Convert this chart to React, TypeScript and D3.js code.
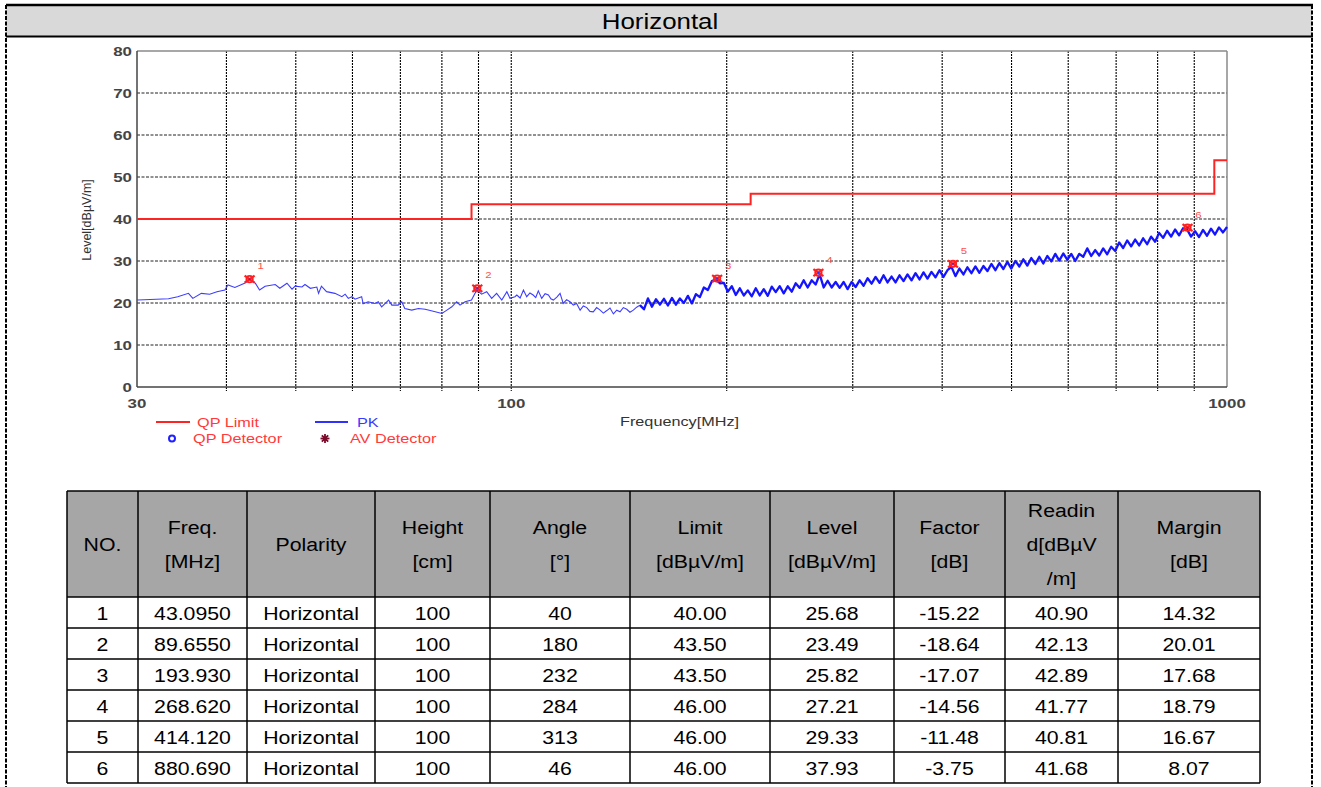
import React from "react";
import * as d3 from "d3";

// ---------- data ----------
const yTicks = [0, 10, 20, 30, 40, 50, 60, 70, 80];
const yGridVals = [10, 20, 30, 40, 50, 60, 70];
const xGridVals = [40, 50, 60, 70, 80, 90, 100, 200, 300, 400, 500, 600, 700, 800, 900];
const xLabelVals = [30, 100, 1000];

// QP limit (step after)
const limitFreq = [30, 88, 216, 960, 1000];
const limitLevel = [40, 43.5, 46, 54, 54];

// PK trace, sparse part (MHz, dBµV/m)
const pkLow: [number, number][] = [
  [30.0, 20.8], [30.1, 20.7], [33.2, 21.0], [34.2, 21.5], [35.4, 22.3], [35.9, 21.1], [36.9, 22.3],
  [37.9, 22.1], [38.8, 22.7], [39.8, 23.1], [40.2, 24.3], [41.1, 23.7], [42.4, 24.7], [43.1, 25.5],
  [43.9, 24.7], [44.5, 23.1], [45.3, 24.0], [46.8, 24.4], [47.5, 23.5], [48.6, 24.7], [49.4, 23.3],
  [49.9, 24.0], [51.0, 23.8], [51.5, 24.4], [52.4, 23.5], [53.5, 23.8], [53.8, 22.3], [54.3, 24.0],
  [55.2, 22.7], [56.7, 22.3], [58.0, 21.5], [58.6, 22.1], [59.2, 21.1], [59.9, 21.5], [60.5, 20.9],
  [61.8, 21.5], [62.1, 19.8], [63.1, 20.3], [64.5, 19.9], [65.2, 20.3], [65.9, 19.1], [67.4, 20.7],
  [68.1, 19.5], [69.5, 19.5], [70.3, 20.3], [71.0, 18.7], [72.6, 18.3], [74.2, 18.7], [75.8, 18.5],
  [78.3, 17.9], [80.0, 17.5], [81.3, 18.3], [82.6, 19.1], [83.9, 20.3], [84.8, 19.5], [86.2, 20.3],
  [88.0, 20.7], [89.5, 23.1], [90.9, 22.1], [92.4, 22.7], [93.9, 21.1], [95.4, 22.3], [97.0, 20.7],
  [98.6, 22.7], [99.6, 21.1], [101.2, 21.5], [101.8, 21.9], [102.9, 21.2], [104.0, 23.1], [105.1, 21.5],
  [106.2, 22.4], [107.3, 21.9], [108.2, 21.3], [109.1, 22.9], [110.3, 21.1], [111.5, 22.2], [112.7, 21.9],
  [113.6, 21.0], [114.5, 20.7], [115.8, 21.4], [117.0, 22.3], [118.2, 19.9], [119.5, 20.8], [120.8, 20.3],
  [122.1, 19.5], [123.4, 19.9], [124.8, 18.3], [126.1, 19.3], [127.5, 18.9], [128.8, 18.0], [130.2, 17.9],
  [131.6, 18.9], [133.1, 18.3], [134.5, 17.6], [136.0, 18.2], [137.4, 18.8], [138.9, 17.4], [140.4, 18.3],
  [141.9, 17.9], [143.4, 18.9], [145.0, 18.5], [146.5, 17.8], [148.1, 18.3], [149.7, 19.0],
];

// PK trace, dense sweep part: log-spaced sweep from 151.3 to 1000 MHz
const pkSweepStart = 151.3;
const pkSweepStop = 1000;
const pkSweepLevels = [
  19.5, 18.5, 21.1, 19.1, 20.9, 19.6, 21.0, 19.4, 21.2, 19.6, 21.1, 20.0, 21.7, 19.9, 22.1, 21.4,
  23.7, 23.1, 25.2, 25.6, 24.7, 24.8, 22.7, 24.0, 21.9, 23.5, 21.8, 23.0, 21.6, 23.5, 21.8, 23.3,
  21.7, 23.9, 22.6, 24.0, 22.3, 24.0, 22.7, 24.7, 23.6, 25.4, 23.7, 25.4, 24.4, 26.8, 23.7, 25.3,
  23.7, 25.0, 23.6, 25.0, 23.3, 25.0, 23.8, 25.4, 24.1, 25.9, 24.6, 26.2, 24.8, 26.6, 24.9, 26.3,
  24.9, 26.6, 25.2, 26.8, 25.4, 27.1, 25.6, 27.3, 25.8, 27.4, 26.1, 27.8, 26.2, 27.8, 28.6, 26.4,
  28.2, 26.8, 28.5, 27.1, 28.7, 27.2, 28.8, 27.6, 29.3, 27.8, 29.5, 28.1, 29.8, 28.2, 30.0, 28.7,
  30.4, 28.9, 30.7, 29.3, 31.0, 29.4, 31.2, 29.9, 31.7, 30.1, 31.8, 30.3, 31.7, 30.0, 31.7, 31.0,
  33.0, 31.2, 32.6, 31.3, 33.0, 31.6, 33.4, 32.4, 34.4, 33.1, 34.9, 33.5, 35.1, 33.7, 35.4, 34.0,
  35.8, 34.6, 36.7, 35.5, 37.2, 35.8, 37.5, 36.1, 37.8, 37.5, 35.8, 37.1, 35.7, 37.4, 36.0, 37.7,
  36.3, 38.0, 36.8, 38.1,
];

// Markers
const markerNo = [1, 2, 3, 4, 5, 6];
const markerFreq = [43.095, 89.655, 193.93, 268.62, 414.12, 880.69];
const markerLevel = [25.68, 23.49, 25.82, 27.21, 29.33, 37.93];

// Table
const tableHeaders = [
  ["NO."], ["Freq.", "[MHz]"], ["Polarity"], ["Height", "[cm]"], ["Angle", "[°]"],
  ["Limit", "[dBµV/m]"], ["Level", "[dBµV/m]"], ["Factor", "[dB]"], ["Readin", "d[dBµV", "/m]"], ["Margin", "[dB]"],
];
const tNo = ["1", "2", "3", "4", "5", "6"];
const tFreq = ["43.0950", "89.6550", "193.930", "268.620", "414.120", "880.690"];
const tPolarity = ["Horizontal", "Horizontal", "Horizontal", "Horizontal", "Horizontal", "Horizontal"];
const tHeight = ["100", "100", "100", "100", "100", "100"];
const tAngle = ["40", "180", "232", "284", "313", "46"];
const tLimit = ["40.00", "43.50", "43.50", "46.00", "46.00", "46.00"];
const tLevel = ["25.68", "23.49", "25.82", "27.21", "29.33", "37.93"];
const tFactor = ["-15.22", "-18.64", "-17.07", "-14.56", "-11.48", "-3.75"];
const tReading = ["40.90", "42.13", "42.89", "41.77", "40.81", "41.68"];
const tMargin = ["14.32", "20.01", "17.68", "18.79", "16.67", "8.07"];

// ---------- layout ----------
const W = 1321;
const H = 787;
const P = { left: 137, right: 1227, top: 51, bottom: 387 };
const FONT = "'Liberation Sans', Arial, Helvetica, sans-serif";
const colEdges = [67, 138, 247, 375, 490, 630, 770, 894, 1005, 1118, 1260];
const headTop = 491;
const headBottom = 597;
const rowH = 31;

function SText(props: {
  x: number; y: number; sx?: number; size: number; fill?: string; anchor?: string; weight?: string; children: any;
}) {
  const { x, y, sx = 1, size, fill = "#000", anchor = "start", weight = "normal", children } = props;
  return (
    <text
      transform={`translate(${x},${y}) scale(${sx},1)`}
      fontFamily={FONT}
      fontSize={size}
      fill={fill}
      textAnchor={anchor as any}
      fontWeight={weight}
    >
      {children}
    </text>
  );
}

export default function App() {
  const x = d3.scaleLog().domain([30, 1000]).range([P.left, P.right]);
  const y = d3.scaleLinear().domain([0, 80]).range([P.bottom, P.top]);

  const n = pkSweepLevels.length;
  const sweepPts: [number, number][] = pkSweepLevels.map((v, i) => [
    pkSweepStart * Math.pow(pkSweepStop / pkSweepStart, i / (n - 1)),
    v,
  ]);
  const line = d3.line<[number, number]>().x((d) => x(d[0])).y((d) => y(d[1]));
  const lowPath = line([...pkLow, sweepPts[0]]) || "";
  const highPath = line(sweepPts) || "";

  const limitPts: [number, number][] = limitFreq.map((f, i) => [f, limitLevel[i]]);
  const limitPath = d3
    .line<[number, number]>()
    .x((d) => x(d[0]))
    .y((d) => y(d[1]))
    .curve(d3.curveStepAfter)(limitPts) || "";

  const CS = 1.3; // chart text horizontal stretch
  const TS = 1.12; // table text stretch

  const tableCols = [tNo, tFreq, tPolarity, tHeight, tAngle, tLimit, tLevel, tFactor, tReading, tMargin];
  const tableBottom = headBottom + rowH * tNo.length;
  const headMid = (headTop + headBottom) / 2;

  return (
    <svg
      width={W}
      height={H}
      viewBox={`0 0 ${W} ${H}`}
      style={{ position: "absolute", left: 0, top: 0, background: "#fff" }}
    >
      {/* page frame */}
      <rect x={6} y={5} width={1306} height={31} fill="#d9d9d9" />
      <line x1={6} x2={1313} y1={5} y2={5} stroke="#000" strokeWidth={2.5} />
      <line x1={6} x2={1313} y1={36.5} y2={36.5} stroke="#000" strokeWidth={2} />
      <line x1={6} x2={6} y1={5} y2={787} stroke="#000" strokeWidth={2} strokeDasharray="4 1.5" />
      <line x1={1312} x2={1312} y1={5} y2={787} stroke="#000" strokeWidth={2} strokeDasharray="4 1.5" />
      <SText x={660} y={29} size={22.5} sx={1.15} anchor="middle">Horizontal</SText>

      {/* grid */}
      {yGridVals.map((v) => (
        <line key={"hg" + v} x1={P.left} x2={P.right} y1={y(v)} y2={y(v)} stroke="#222" strokeWidth={1} strokeDasharray="3 1.5" />
      ))}
      {xGridVals.map((v) => (
        <line key={"vg" + v} x1={x(v)} x2={x(v)} y1={P.top} y2={P.bottom + 4} stroke="#000" strokeWidth={1.1} strokeDasharray="2 1" />
      ))}

      {/* frame */}
      <line x1={P.left} x2={P.right} y1={P.top} y2={P.top} stroke="#8a8a8a" strokeWidth={1.5} />
      <line x1={P.right} x2={P.right} y1={P.top} y2={P.bottom} stroke="#8a8a8a" strokeWidth={1.5} />
      <line x1={P.left} x2={P.left} y1={P.top} y2={P.bottom} stroke="#444" strokeWidth={1.5} />
      <line x1={P.left} x2={P.right} y1={P.bottom} y2={P.bottom} stroke="#444" strokeWidth={1.5} />

      {/* y labels */}
      {yTicks.map((v) => (
        <SText key={"yl" + v} x={132} y={y(v) + 5} size={13} sx={CS} anchor="end" fill="#444" weight="bold">
          {String(v)}
        </SText>
      ))}
      {xLabelVals.map((v) => (
        <SText key={"xl" + v} x={x(v)} y={407.5} size={13} sx={CS} anchor="middle" fill="#444" weight="bold">
          {String(v)}
        </SText>
      ))}
      <text
        transform="translate(91,220) rotate(-90)"
        fontFamily={FONT}
        fontSize={12.5}
        fill="#333"
        textAnchor="middle"
      >
        Level[dBµV/m]
      </text>
      <SText x={620} y={426} size={12.5} sx={CS} fill="#333">Frequency[MHz]</SText>

      {/* data */}
      <defs>
        <clipPath id="plotClip">
          <rect x={P.left} y={P.top - 2} width={P.right - P.left + 1} height={P.bottom - P.top + 2} />
        </clipPath>
      </defs>
      <g clipPath="url(#plotClip)">
        <path d={lowPath} fill="none" stroke="#3d3dff" strokeWidth={1.1} />
        <path d={highPath} fill="none" stroke="#1414ff" strokeWidth={2.3} strokeLinejoin="round" />
        <path d={limitPath} fill="none" stroke="#ff2424" strokeWidth={2} />
      </g>

      {/* markers */}
      {markerNo.map((no, i) => {
        const mx = x(markerFreq[i]);
        const my = y(markerLevel[i]);
        return (
          <g key={"m" + no}>
            <circle cx={mx} cy={my} r={3.2} fill="none" stroke="#ff2020" strokeWidth={1.8} />
            <path
              d={`M${mx - 5},${my - 3.5}L${mx + 5},${my + 3.5}M${mx - 5},${my + 3.5}L${mx + 5},${my - 3.5}`}
              stroke="#ff2020"
              strokeWidth={2.2}
            />
            <circle cx={mx} cy={my} r={1} fill="#3030ff" />
            <SText x={mx + 11} y={my - 10} size={9.5} sx={1.2} anchor="middle" fill="#ff5050">
              {String(no)}
            </SText>
          </g>
        );
      })}

      {/* legend */}
      <line x1={156} x2={190} y1={422} y2={422} stroke="#ff2424" strokeWidth={2} />
      <SText x={197} y={426.5} size={12.5} sx={CS} fill="#ff3a3a">QP Limit</SText>
      <line x1={315} x2={348} y1={422} y2={422} stroke="#3030ff" strokeWidth={2} />
      <SText x={357} y={426.5} size={12.5} sx={CS} fill="#3a3aff">PK</SText>
      <circle cx={172} cy={438.5} r={3} fill="none" stroke="#2020ff" strokeWidth={2} />
      <SText x={193} y={443} size={12.5} sx={CS} fill="#ff3a3a">QP Detector</SText>
      <g stroke="#7a0a2a" strokeWidth={1.8}>
        {[0, 45, 90, 135].map((a) => {
          const r = 4.5;
          const dx = r * Math.cos((a * Math.PI) / 180);
          const dy = r * Math.sin((a * Math.PI) / 180);
          return <line key={"st" + a} x1={325 - dx} x2={325 + dx} y1={438.5 - dy} y2={438.5 + dy} />;
        })}
      </g>
      <circle cx={325} cy={438.5} r={2.2} fill="#7a0a2a" />
      <SText x={350} y={443} size={12.5} sx={CS} fill="#ff3a3a">AV Detector</SText>

      {/* table */}
      <rect x={colEdges[0]} y={headTop} width={colEdges[colEdges.length - 1] - colEdges[0]} height={headBottom - headTop} fill="#a6a6a6" />
      {tableHeaders.map((lines, c) => {
        const cx = (colEdges[c] + colEdges[c + 1]) / 2;
        const gap = 34;
        const start = headMid - ((lines.length - 1) * gap) / 2;
        return lines.map((t, k) => (
          <SText key={"h" + c + "_" + k} x={cx} y={start + k * gap + 7} size={19} sx={TS} anchor="middle">
            {t}
          </SText>
        ));
      })}
      {tableCols.map((col, c) => {
        const cx = (colEdges[c] + colEdges[c + 1]) / 2;
        return col.map((t, r) => (
          <SText key={"c" + c + "_" + r} x={cx} y={headBottom + r * rowH + rowH / 2 + 7} size={19} sx={TS} anchor="middle">
            {t}
          </SText>
        ));
      })}
      {/* table lines */}
      {colEdges.map((ex, i) => (
        <line key={"tc" + i} x1={ex} x2={ex} y1={headTop} y2={tableBottom} stroke="#000" strokeWidth={1.5} />
      ))}
      <line x1={colEdges[0]} x2={colEdges[colEdges.length - 1]} y1={headTop} y2={headTop} stroke="#000" strokeWidth={1.5} />
      {tNo.map((_, r) => (
        <line
          key={"tr" + r}
          x1={colEdges[0]}
          x2={colEdges[colEdges.length - 1]}
          y1={headBottom + r * rowH}
          y2={headBottom + r * rowH}
          stroke="#000"
          strokeWidth={1.5}
        />
      ))}
      <line x1={colEdges[0]} x2={colEdges[colEdges.length - 1]} y1={tableBottom} y2={tableBottom} stroke="#000" strokeWidth={1.5} />
    </svg>
  );
}
